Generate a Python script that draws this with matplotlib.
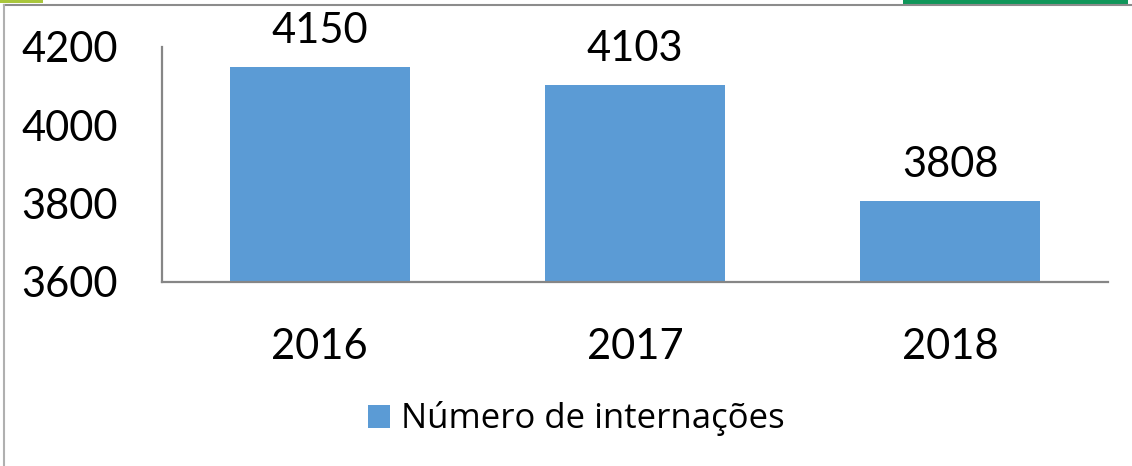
import matplotlib
matplotlib.use("Agg")
import matplotlib.pyplot as plt
from matplotlib.patches import Rectangle

plt.rcParams['font.family'] = ['Lato', 'DejaVu Sans']

years = ["2016", "2017", "2018"]
values = [4150, 4103, 3808]
series_name = "Número de internações"
yticks = [3600, 3800, 4000, 4200]

W, H = 1132, 466
fig = plt.figure(figsize=(W / 100, H / 100), dpi=100)

# frame decorations (cropped chart border and header patches)
fig.patches.append(Rectangle((0, 1 - 3 / H), 43 / W, 3 / H, transform=fig.transFigure,
                             facecolor="#A9C63C", edgecolor="none"))
fig.patches.append(Rectangle((903 / W, 1 - 4 / H), 225 / W, 4 / H, transform=fig.transFigure,
                             facecolor="#10965A", edgecolor="none"))
fig.add_artist(plt.Line2D([4 / W, 1], [1 - 4.5 / H, 1 - 4.5 / H], transform=fig.transFigure,
                          color="#8C8C8C", lw=1.5))
fig.add_artist(plt.Line2D([4 / W, 4 / W], [0, 1 - 4.5 / H], transform=fig.transFigure,
                          color="#B0B0B0", lw=1.5))

ax = fig.add_axes([162 / W, 1 - 282 / H, (1108 - 162) / W, (282 - 47) / H])
x = list(range(len(years)))
bars = ax.bar(x, values, width=0.571, color="#5B9BD5", label=series_name)

ax.set_xlim(-0.5, len(years) - 0.5)
ax.set_ylim(3600, 4200)
ax.set_yticks(yticks)
ax.set_yticklabels([str(t) for t in yticks], fontsize=30)
ax.set_xticks(x)
ax.set_xticklabels(years, fontsize=30)
ax.tick_params(axis='both', length=0)
ax.tick_params(axis='y', pad=32)
ax.tick_params(axis='x', pad=33)

for s in ["top", "right"]:
    ax.spines[s].set_visible(False)
for s in ["left", "bottom"]:
    ax.spines[s].set_color("#868686")
    ax.spines[s].set_linewidth(1.6)

for xi, v in zip(x, values):
    ax.annotate(str(v), (xi, v), xytext=(0, 17), textcoords="offset pixels",
                ha="center", va="bottom", fontsize=30, clip_on=False)

leg = fig.legend(handles=[bars], labels=[series_name], loc="center",
                 bbox_to_anchor=(576 / W, 1 - 419 / H), frameon=False,
                 prop={'family': ['Open Sans', 'DejaVu Sans'], 'size': 25},
                 handlelength=0.65, handleheight=0.65, handletextpad=0.3,
                 borderpad=0, borderaxespad=0)

fig.savefig("out.png", dpi=100)
